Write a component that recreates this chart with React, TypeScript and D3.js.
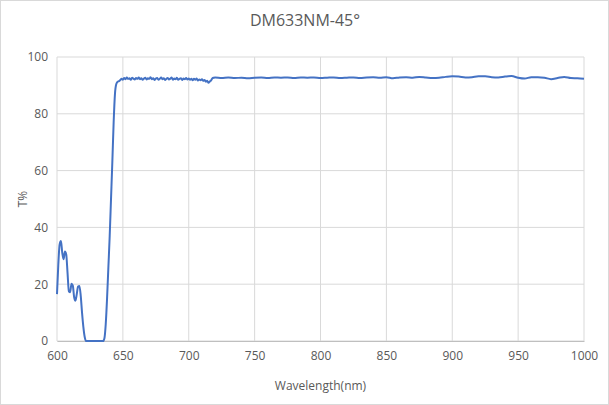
import React, { useRef, useEffect } from "react";
import * as d3 from "d3";

// Transmission curve
const wavelengths: number[] = [
  600, 601, 602, 603, 604, 605, 606, 607, 608, 609, 610, 611, 612, 613, 614, 615, 616, 617, 618, 619, 620, 621, 622,
  625, 630, 635, 636, 637, 638, 639, 640, 641, 642, 643, 644, 645, 646, 647, 648, 649, 650,
  651, 652, 653, 654, 655, 656, 657, 658, 659, 660, 661, 662, 663, 664, 665, 666, 667, 668, 669, 670,
  671, 672, 673, 674, 675, 676, 677, 678, 679, 680, 681, 682, 683, 684, 685, 686, 687, 688, 689, 690,
  691, 692, 693, 694, 695, 696, 697, 698, 699, 700, 701, 702, 703, 704, 705, 706, 707, 708, 709, 710,
  711, 712, 713, 714, 715, 716, 717, 718, 719, 720,
  725, 730, 735, 740, 745, 750, 755, 760, 765, 770, 775, 780, 785, 790, 795, 800,
  805, 810, 815, 820, 825, 830, 835, 840, 845, 850, 855, 860, 865, 870, 875, 880,
  885, 890, 895, 900, 905, 910, 915, 920, 925, 930, 935, 940, 945, 950, 955, 960,
  965, 970, 975, 980, 985, 990, 995, 1000,
];

const transmission: number[] = [
  16.5, 27, 34, 35.2, 31, 28.8, 31.5, 30.5, 24, 17.5, 17.2, 20.2, 19.5, 15.5, 14.2, 16.5, 19.2, 19.4, 16, 10, 5, 1.5, 0,
  0, 0, 0, 1, 6, 15, 26, 37, 50, 63, 77, 87, 90.5, 91.3, 91.5, 91.9, 92.3, 92.0,
  92.6, 92.2, 92.8, 92.3, 92.5, 92.0, 92.7, 92.4, 92.1, 92.6, 92.3, 92.8, 92.2, 92.5, 92.0, 92.4, 92.7, 92.1, 92.5, 92.3,
  92.9, 92.2, 92.5, 91.9, 92.4, 92.6, 92.0, 92.3, 92.8, 92.2, 92.5, 91.9, 92.3, 92.6, 92.1, 92.4, 92.8, 92.0, 92.4, 92.2,
  92.7, 92.0, 92.3, 92.5, 91.9, 92.4, 92.2, 92.6, 92.1, 92.4, 92.0, 92.3, 91.8, 92.3, 92.0, 92.4, 91.7, 92.1, 91.8, 92.2,
  91.6, 91.9, 91.3, 91.6, 90.9, 91.4, 91.8, 92.5, 92.7, 92.8,
  92.6, 92.8, 92.6, 92.7, 92.5, 92.7, 92.8, 92.6, 92.8, 92.7, 92.8, 92.6, 92.8, 92.7, 92.8, 92.6,
  92.7, 92.8, 92.6, 92.7, 92.8, 92.6, 92.8, 92.9, 92.7, 92.9, 92.5, 92.8, 92.9, 92.7, 93.0, 92.8,
  92.6, 92.7, 93.0, 93.2, 93.1, 92.8, 92.9, 93.2, 93.2, 92.9, 92.8, 93.1, 93.3, 92.7, 92.4, 92.9,
  92.9, 92.7, 92.2, 92.6, 93.0, 92.6, 92.5, 92.3,
];

const xTicks: number[] = [600, 650, 700, 750, 800, 850, 900, 950, 1000];
const yTicks: number[] = [0, 20, 40, 60, 80, 100];

const chartTitle = "DM633NM-45°";
const xTitle = "Wavelength(nm)";
const yTitle = "T%";

export default function App() {
  const svgRef = useRef<SVGSVGElement>(null);

  useEffect(() => {
    document.body.style.margin = "0";
    if (!svgRef.current) return;

    const svg = d3.select(svgRef.current);
    svg.selectAll("*").remove();

    const width = 609;
    const height = 405;
    const margin = { top: 57, right: 25, bottom: 64, left: 57 };
    const innerWidth = width - margin.left - margin.right;
    const innerHeight = height - margin.top - margin.bottom;
    const font = "'Open Sans', 'Noto Sans', sans-serif";
    const textColor = "#595959";

    svg.attr("width", width).attr("height", height);

    // chart background and border
    svg.append("rect")
      .attr("x", 0.5)
      .attr("y", 0.5)
      .attr("width", width - 1)
      .attr("height", height - 1)
      .attr("fill", "#ffffff")
      .attr("stroke", "#d9d9d9");

    const xScale = d3.scaleLinear().domain([600, 1000]).range([0, innerWidth]);
    const yScale = d3.scaleLinear().domain([0, 100]).range([innerHeight, 0]);

    const g = svg.append("g")
      .attr("transform", `translate(${margin.left},${margin.top})`);

    // gridlines
    g.append("g")
      .selectAll("line.vgrid")
      .data(xTicks)
      .join("line")
      .attr("x1", d => xScale(d))
      .attr("x2", d => xScale(d))
      .attr("y1", 0)
      .attr("y2", innerHeight)
      .attr("stroke", "#d9d9d9")
      .attr("stroke-width", 1);

    g.append("g")
      .selectAll("line.hgrid")
      .data(yTicks)
      .join("line")
      .attr("x1", 0)
      .attr("x2", innerWidth)
      .attr("y1", d => yScale(d))
      .attr("y2", d => yScale(d))
      .attr("stroke", "#d9d9d9")
      .attr("stroke-width", 1);

    // axes (labels only, Excel style)
    const xAxis = g.append("g")
      .attr("transform", `translate(0,${innerHeight})`)
      .call(d3.axisBottom(xScale).tickValues(xTicks).tickSize(0).tickPadding(10).tickFormat(d => `${d}`));
    xAxis.select(".domain").attr("stroke", "#bfbfbf");
    xAxis.selectAll("text")
      .style("font-family", font)
      .style("font-size", "12px")
      .style("fill", textColor);

    const yAxis = g.append("g")
      .call(d3.axisLeft(yScale).tickValues(yTicks).tickSize(0).tickPadding(9).tickFormat(d => `${d}`));
    yAxis.select(".domain").remove();
    yAxis.selectAll("text")
      .style("font-family", font)
      .style("font-size", "12px")
      .style("fill", textColor);

    // curve
    const points = wavelengths.map((w, i) => ({ w, t: transmission[i] }));
    const line = d3.line<{ w: number; t: number }>()
      .x(d => xScale(d.w))
      .y(d => yScale(d.t))
      .curve(d3.curveMonotoneX);

    g.append("path")
      .datum(points)
      .attr("fill", "none")
      .attr("stroke", "#4472c4")
      .attr("stroke-width", 2)
      .attr("stroke-linejoin", "round")
      .attr("d", line);

    // titles
    svg.append("text")
      .attr("x", 305)
      .attr("y", 26)
      .style("text-anchor", "middle")
      .style("font-family", font)
      .style("font-size", "16px")
      .style("fill", textColor)
      .text(chartTitle);

    svg.append("text")
      .attr("x", margin.left + innerWidth / 2)
      .attr("y", 390)
      .style("text-anchor", "middle")
      .style("font-family", font)
      .style("font-size", "12px")
      .style("fill", textColor)
      .text(xTitle);

    svg.append("text")
      .attr("transform", `translate(27,${margin.top + innerHeight / 2}) rotate(-90)`)
      .style("text-anchor", "middle")
      .style("font-family", font)
      .style("font-size", "12px")
      .style("fill", textColor)
      .text(yTitle);
  }, []);

  return <svg ref={svgRef} style={{ display: "block" }} />;
}
